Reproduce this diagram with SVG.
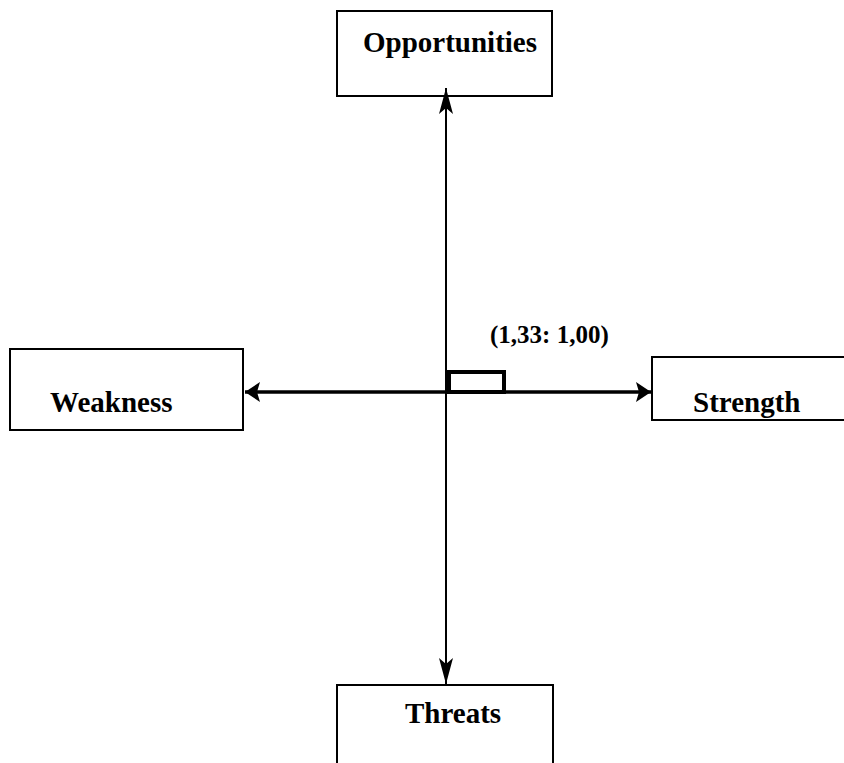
<svg xmlns="http://www.w3.org/2000/svg" width="844" height="763" viewBox="0 0 844 763">
<style>
.box{fill:#fff;stroke:#000;stroke-width:2}
.lbl{font-family:"Liberation Serif","Times New Roman",serif;font-weight:bold;font-size:29px;fill:#000}
.small{font-size:25px}
.axis{stroke:#000;fill:none}
</style>
<defs>
<marker id="av" markerUnits="userSpaceOnUse" viewBox="0 -7 26 14" markerWidth="26" markerHeight="14" refX="26" refY="0" orient="auto-start-reverse">
<path d="M0,-7 L26,0 L0,7 L6,0 Z" fill="#000"/>
</marker>
<marker id="ah" markerUnits="userSpaceOnUse" viewBox="0 -10 15 20" markerWidth="15" markerHeight="20" refX="15" refY="0" orient="auto-start-reverse">
<path d="M0,-10 L15,0 L0,10 L3,0 Z" fill="#000"/>
</marker>
</defs>
<rect width="844" height="763" fill="#fff"/>
<g id="opportunities">
<rect class="box" x="337" y="11" width="215" height="85"/>
<text class="lbl" x="363" y="52">Opportunities</text>
</g>
<g id="weakness">
<rect class="box" x="10" y="349" width="233" height="81"/>
<text class="lbl" x="50" y="412">Weakness</text>
</g>
<g id="strength">
<rect class="box" x="652" y="357" width="200" height="63"/>
<text class="lbl" x="693" y="412">Strength</text>
</g>
<g id="threats">
<rect class="box" x="337" y="685" width="216" height="90"/>
<text class="lbl" x="405" y="723">Threats</text>
</g>
<g id="connectors">
<line class="axis" x1="446" y1="88" x2="446" y2="684" stroke-width="2" marker-start="url(#av)" marker-end="url(#av)"/>
<line class="axis" x1="245" y1="392" x2="651" y2="392" stroke-width="3.5" marker-start="url(#ah)" marker-end="url(#ah)"/>
</g>
<g id="point">
<rect x="449" y="372" width="55" height="20" fill="none" stroke="#000" stroke-width="4"/>
<text class="lbl small" x="490" y="343">(1,33: 1,00)</text>
</g>
</svg>
